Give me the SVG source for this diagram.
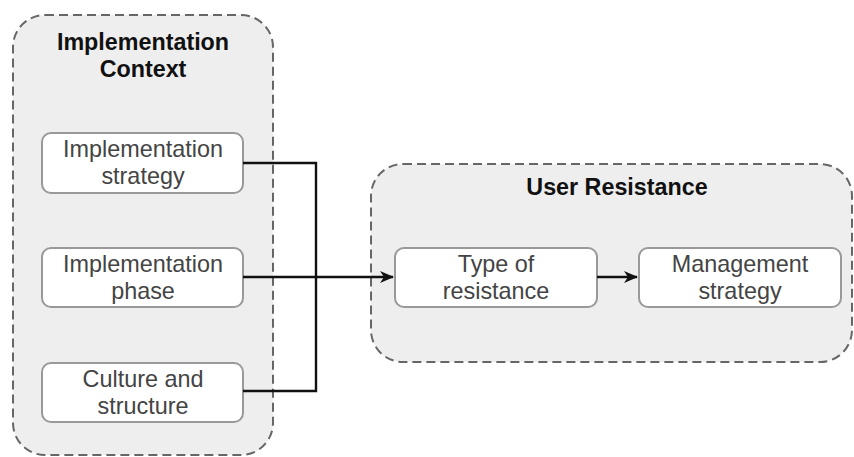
<svg xmlns="http://www.w3.org/2000/svg" width="854" height="457" viewBox="0 0 854 457">
<defs>
<marker id="arr" markerWidth="14" markerHeight="12" refX="13" refY="6" orient="auto" markerUnits="userSpaceOnUse">
<path d="M0,0 L14,6 L0,12 L4,6 Z" fill="#111"/>
</marker>
<style>
.cont{fill:#eeeeee;stroke:#666;stroke-width:2;stroke-dasharray:9 5}
.box{fill:#fff;stroke:#999;stroke-width:2}
.t{font-family:"Liberation Sans",Arial,sans-serif;font-size:23.4px;fill:#444;text-anchor:middle}
.h{font-family:"Liberation Sans",Arial,sans-serif;font-size:23.3px;font-weight:bold;fill:#111;text-anchor:middle}
.c{fill:none;stroke:#111;stroke-width:2.4}
</style>
</defs>
<rect width="854" height="457" fill="#fff"/>
<g id="implementation-context">
<rect class="cont" x="13" y="15" width="260" height="440" rx="32"/>
<text class="h" x="143" y="50">Implementation</text>
<text class="h" x="143" y="77">Context</text>
</g>
<g id="user-resistance">
<rect class="cont" x="371" y="164" width="481" height="198" rx="32"/>
<text class="h" x="617" y="195">User Resistance</text>
</g>
<g id="impl-strategy">
<rect class="box" x="42" y="133" width="201" height="60" rx="9"/>
<text class="t" x="143" y="157">Implementation</text>
<text class="t" x="143" y="184">strategy</text>
</g>
<g id="impl-phase">
<rect class="box" x="42" y="248" width="201" height="59" rx="9"/>
<text class="t" x="143" y="272">Implementation</text>
<text class="t" x="143" y="299">phase</text>
</g>
<g id="culture">
<rect class="box" x="42" y="363" width="201" height="59" rx="9"/>
<text class="t" x="143" y="387">Culture and</text>
<text class="t" x="143" y="414">structure</text>
</g>
<g id="type-resistance">
<rect class="box" x="395" y="248" width="202" height="59" rx="9"/>
<text class="t" x="496" y="272">Type of</text>
<text class="t" x="496" y="299">resistance</text>
</g>
<g id="management-strategy">
<rect class="box" x="639" y="248" width="202" height="59" rx="9"/>
<text class="t" x="740" y="272">Management</text>
<text class="t" x="740" y="299">strategy</text>
</g>
<g id="connectors">
<path class="c" d="M243,163 H316 V391 H243"/>
<path class="c" d="M243,277 H393" marker-end="url(#arr)"/>
<path class="c" d="M597,277 H637" marker-end="url(#arr)"/>
</g>
</svg>
